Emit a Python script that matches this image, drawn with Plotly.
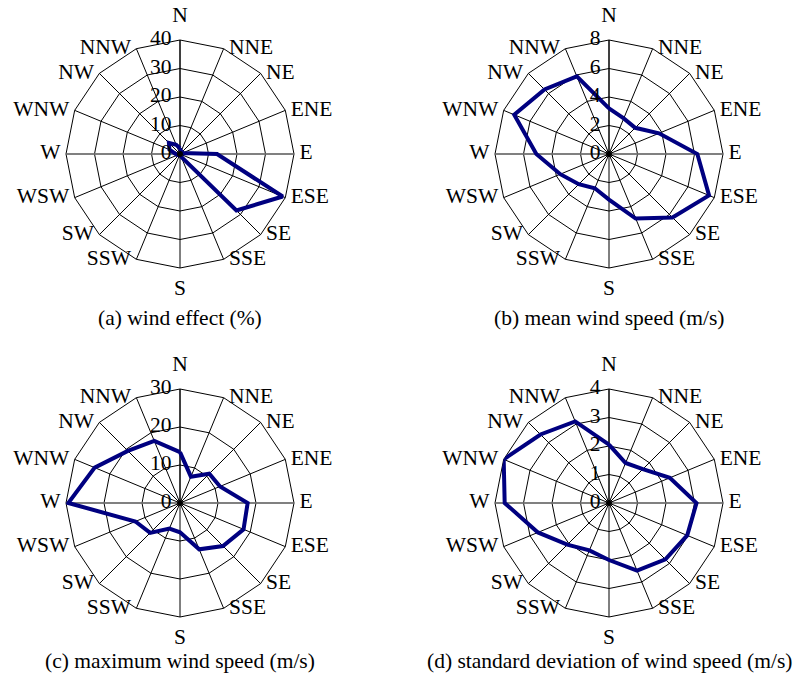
import plotly.graph_objects as go

directions = ["N", "NNE", "NE", "ENE", "E", "ESE", "SE", "SSE",
              "S", "SSW", "SW", "WSW", "W", "WNW", "NW", "NNW"]

wind_effect = [2.0, 1.0, 1.0, 1.0, 13.0, 39.0, 28.0, 1.0,
               0.5, 0.5, 0.5, 1.0, 1.5, 4.0, 5.5, 3.5]
mean_speed = [3.2, 2.7, 2.6, 3.8, 6.2, 7.6, 6.3, 4.9,
              3.2, 2.6, 3.0, 3.7, 5.1, 7.2, 6.4, 5.9]
max_speed = [13.4, 7.5, 10.9, 11.4, 17.8, 18.1, 16.0, 13.2,
             7.7, 7.3, 11.1, 12.7, 29.4, 24.3, 19.4, 17.7]
std_speed = [2.05, 1.52, 1.68, 2.31, 3.07, 2.97, 2.8, 2.57,
             2.0, 1.8, 2.07, 2.7, 3.66, 4.0, 3.4, 3.1]

captions = ["(a) wind effect (%)", "(b) mean wind speed (m/s)",
            "(c) maximum wind speed (m/s)",
            "(d) standard deviation of wind speed (m/s)"]
r_max = [40, 8, 30, 4]
r_step = [10, 2, 10, 1]
series = [wind_effect, mean_speed, max_speed, std_speed]

W, H = 795, 675
R = 114
centers = [(180, 154), (609, 154), (180, 503), (609, 503)]
caption_y = [318, 318, 661, 661]

FONT = "Liberation Serif"
FS = 21.5
NAVY = "#000080"

east_side = directions[1:8]
west_side = directions[9:16]

fig = go.Figure()
layout = dict(
    width=W, height=H,
    margin=dict(l=0, r=0, t=0, b=0),
    paper_bgcolor="white",
    plot_bgcolor="white",
    showlegend=False,
    font=dict(family=FONT, size=FS, color="black"),
)
annotations = []
tfont = dict(family=FONT, size=FS, color="black")
for i in range(4):
    name = "polar" if i == 0 else f"polar{i+1}"
    sub = name
    cx, cy = centers[i]
    dom_x = [(cx - R) / W, (cx + R) / W]
    dom_y = [1 - (cy + R) / H, 1 - (cy - R) / H]
    vals = series[i]
    rm = r_max[i]
    eps = rm * 1e-4
    # W-E gray reference line
    fig.add_trace(go.Scatterpolar(
        r=[rm, rm], theta=["W", "E"], mode="lines",
        line=dict(color="#808080", width=1.6), subplot=sub,
        hoverinfo="skip"))
    fig.add_trace(go.Scatterpolar(
        r=vals + vals[:1], theta=directions + directions[:1],
        mode="lines", line=dict(color=NAVY, width=4), subplot=sub))
    # centre dot
    fig.add_trace(go.Scatterpolar(
        r=[eps], theta=["N"], mode="markers",
        marker=dict(color="black", size=6), subplot=sub,
        cliponaxis=False, hoverinfo="skip"))
    # direction labels
    fig.add_trace(go.Scatterpolar(
        r=[rm] * len(east_side), theta=east_side, text=east_side,
        mode="markers+text", textposition="middle right",
        marker=dict(size=7, opacity=0), textfont=tfont,
        cliponaxis=False, subplot=sub, hoverinfo="skip"))
    fig.add_trace(go.Scatterpolar(
        r=[rm] * len(west_side), theta=west_side, text=west_side,
        mode="markers+text", textposition="middle left",
        marker=dict(size=7, opacity=0), textfont=tfont,
        cliponaxis=False, subplot=sub, hoverinfo="skip"))
    fig.add_trace(go.Scatterpolar(
        r=[rm], theta=["N"], text=["N"],
        mode="markers+text", textposition="top center",
        marker=dict(size=18, opacity=0), textfont=tfont,
        cliponaxis=False, subplot=sub, hoverinfo="skip"))
    fig.add_trace(go.Scatterpolar(
        r=[rm], theta=["S"], text=["S"],
        mode="markers+text", textposition="bottom center",
        marker=dict(size=15, opacity=0), textfont=tfont,
        cliponaxis=False, subplot=sub, hoverinfo="skip"))
    # radial tick labels
    ticks = list(range(0, rm + 1, r_step[i]))
    tick_r = [max(t, eps) for t in ticks]
    fig.add_trace(go.Scatterpolar(
        r=tick_r, theta=["N"] * len(ticks), text=[str(t) for t in ticks],
        mode="markers+text", textposition="middle left",
        marker=dict(size=12, opacity=0), textfont=tfont,
        cliponaxis=False, subplot=sub, hoverinfo="skip"))
    layout[name] = dict(
        domain=dict(x=dom_x, y=dom_y),
        gridshape="linear",
        bgcolor="white",
        angularaxis=dict(
            type="category",
            categoryarray=directions,
            categoryorder="array",
            direction="clockwise",
            rotation=90,
            showline=True, linecolor="black", linewidth=1,
            showgrid=True, gridcolor="black", gridwidth=1,
            ticks="", showticklabels=False,
            layer="below traces",
        ),
        radialaxis=dict(
            range=[0, rm], dtick=r_step[i], tick0=0,
            angle=90,
            showline=True, linecolor="black", linewidth=1,
            showgrid=True, gridcolor="black", gridwidth=1,
            ticks="", showticklabels=False,
            layer="below traces",
        ),
    )
    annotations.append(dict(
        text=captions[i], x=cx / W, y=1 - caption_y[i] / H,
        xref="paper", yref="paper", showarrow=False,
        xanchor="center", yanchor="middle", font=tfont))

layout["annotations"] = annotations
fig.update_layout(**layout)
fig.write_html("out.html")
